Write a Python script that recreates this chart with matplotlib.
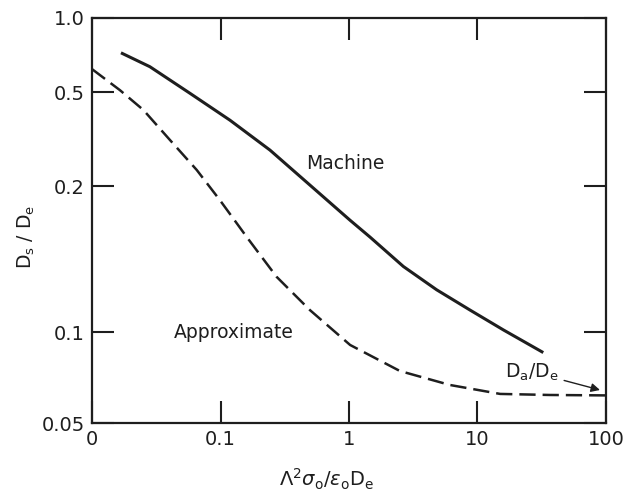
import numpy as np
import matplotlib
matplotlib.use("Agg")
import matplotlib.pyplot as plt
from matplotlib.ticker import FixedLocator, FixedFormatter, NullLocator

# ---- data ----
machine_x = [0.0168, 0.0282, 0.0579, 0.1186, 0.2427, 0.392, 1.02, 1.456,
             2.65, 4.81, 8.74, 15.9, 32.5]
machine_y = [0.722, 0.634, 0.494, 0.380, 0.284, 0.226, 0.170, 0.157,
             0.1365, 0.1222, 0.111, 0.101, 0.0855]

approx_x = [0.01, 0.0165, 0.0251, 0.0405, 0.0653, 0.099, 0.134, 0.160, 0.273,
            0.496, 1.02, 2.49, 6.1, 15.0, 36.6, 100.0]
approx_y = [0.620, 0.509, 0.420, 0.313, 0.234, 0.187, 0.1675, 0.157, 0.130,
            0.111, 0.0906, 0.0743, 0.0668, 0.0624, 0.0619, 0.0617]

x_ticks = [0.01, 0.1, 1, 10, 100]
x_ticklabels = ["0", "0.1", "1", "10", "100"]
y_ticks = [0.05, 0.1, 0.2, 0.5, 1.0]
y_ticklabels = ["0.05", "0.1", "0.2", "0.5", "1.0"]

# non-uniform vertical scale of the original figure (fraction of height per tick)
y_tick_frac = [0.0, 0.2247, 0.585, 0.817, 1.0]

log_ticks = np.log10(y_ticks)


def fwd(y):
    y = np.clip(np.asarray(y, dtype=float), 1e-6, None)
    return np.interp(np.log10(y), log_ticks, y_tick_frac)


def inv(f):
    f = np.asarray(f, dtype=float)
    return 10 ** np.interp(f, y_tick_frac, log_ticks)


ink = "#1e1e1e"
plt.rcParams["font.family"] = ["DejaVu Sans"]
plt.rcParams["mathtext.fontset"] = "dejavusans"

fig = plt.figure(figsize=(6.29, 4.94), dpi=100)
ax = fig.add_axes([0.1463, 0.1437, 0.8171, 0.8199])
ax.set_xscale("log")
ax.set_yscale("function", functions=(fwd, inv))
ax.set_xlim(0.01, 100)
ax.set_ylim(0.05, 1.0)

ax.plot(machine_x, machine_y, color=ink, lw=2.2, solid_capstyle="butt",
        solid_joinstyle="round")
ln, = ax.plot(approx_x, approx_y, color=ink, lw=1.8)
ln.set_dashes((6.5, 2.8))

ax.xaxis.set_major_locator(FixedLocator(x_ticks))
ax.xaxis.set_major_formatter(FixedFormatter(x_ticklabels))
ax.xaxis.set_minor_locator(NullLocator())
ax.yaxis.set_major_locator(FixedLocator(y_ticks))
ax.yaxis.set_major_formatter(FixedFormatter(y_ticklabels))
ax.yaxis.set_minor_locator(NullLocator())

ax.tick_params(which="major", direction="in", length=16, width=1.5,
               top=True, right=True, labelsize=14, colors=ink, pad=5)
for s in ax.spines.values():
    s.set_linewidth(1.6)
    s.set_color(ink)

ax.text(0.931, 0.250, "Machine", fontsize=13.5, color=ink, ha="center", va="center")
ax.text(0.127, 0.100, "Approximate", fontsize=13.5, color=ink, ha="center", va="center")
ax.annotate(r"D$_\mathrm{a}$/D$_\mathrm{e}$", xy=(89.8, 0.0643), xytext=(26.5, 0.0738),
            fontsize=13.5, color=ink, ha="center", va="center",
            arrowprops=dict(arrowstyle="-|>", color=ink, lw=1.0,
                            shrinkA=2, shrinkB=0, mutation_scale=13))

ax.set_ylabel(r"D$_\mathrm{s}$ / D$_\mathrm{e}$", fontsize=13.5, color=ink)
ax.set_xlabel(r"$\Lambda^2\sigma_\mathrm{o}/\epsilon_\mathrm{o}\mathrm{D_e}$",
              fontsize=14, color=ink)
ax.xaxis.set_label_coords(0.457, -0.108)
ax.yaxis.set_label_coords(-0.107, 0.459)

fig.savefig("out.png", dpi=100, facecolor="white")
